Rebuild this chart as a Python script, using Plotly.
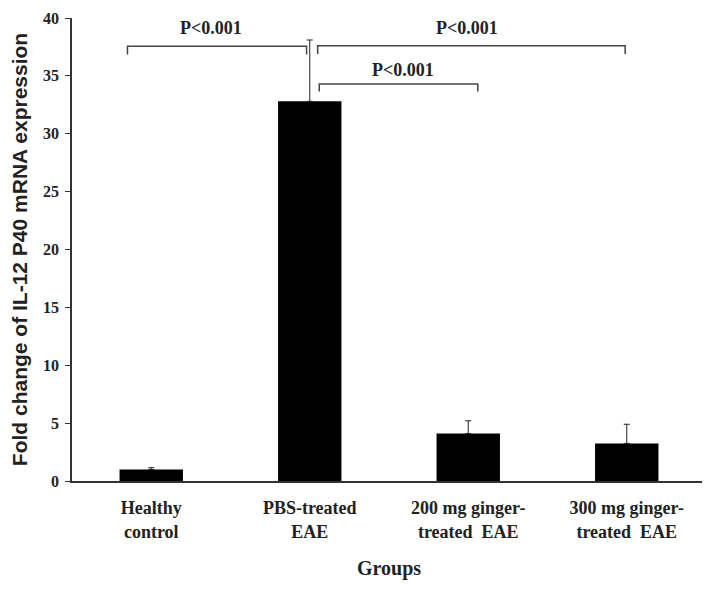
import plotly.graph_objects as go

# data
GROUPS = ["Healthy<br>control", "PBS-treated<br>EAE", "200 mg ginger-<br>treated  EAE", "300 mg ginger-<br>treated  EAE"]
FOLD_CHANGE = [1.0, 32.8, 4.1, 3.25]
ERROR_UP = [0.15, 5.3, 1.1, 1.65]

# significance brackets: (x_left, x_right, y_bar, drop, label_x, label_y)
BRACKETS = [
    (-0.15, 0.98, 37.55, 0.7, 0.38, 39.1),
    (1.05, 2.99, 37.6, 0.7, 1.99, 39.1),
    (1.06, 2.06, 34.3, 0.65, 1.59, 35.5),
]
P_LABEL = "P<0.001"

SERIF = "Liberation Serif"
SANS = "Liberation Sans"

fig = go.Figure(
    go.Bar(
        x=GROUPS,
        y=FOLD_CHANGE,
        marker=dict(color="black", line=dict(width=0)),
        width=0.4,
        error_y=dict(
            type="data",
            symmetric=False,
            array=ERROR_UP,
            arrayminus=[0] * len(ERROR_UP),
            color="#222",
            thickness=1,
            width=3,
        ),
    )
)

for x0, x1, yb, drop, lx, ly in BRACKETS:
    fig.add_shape(
        type="path",
        xref="x",
        yref="y",
        path=f"M {x0} {yb - drop} L {x0} {yb} L {x1} {yb} L {x1} {yb - drop}",
        line=dict(color="#444", width=1.5),
    )
    fig.add_annotation(
        x=lx,
        y=ly,
        xref="x",
        yref="y",
        text=P_LABEL,
        showarrow=False,
        font=dict(family=SERIF, size=18, color="#222", weight="bold"),
    )

# page body adds an 8px margin, so the figure is a bit smaller than the window
fig.update_layout(
    width=702,
    height=581,
    margin=dict(l=64, r=4, t=10, b=108),
    plot_bgcolor="white",
    paper_bgcolor="white",
    showlegend=False,
    xaxis=dict(
        type="category",
        range=[-0.5, 3.5],
        automargin=False,
        showline=True,
        linecolor="#333",
        linewidth=1.5,
        ticks="",
        ticklabelstandoff=10,
        showgrid=False,
        tickfont=dict(family=SERIF, size=18, color="#222", weight="bold"),
        title=dict(
            text="Groups",
            font=dict(family=SERIF, size=20, color="#222", weight="bold"),
            standoff=20,
        ),
    ),
    yaxis=dict(
        range=[0, 40],
        dtick=5,
        automargin=False,
        showline=True,
        linecolor="#333",
        linewidth=1.5,
        ticks="outside",
        ticklen=5,
        tickcolor="#333",
        ticklabelstandoff=3,
        ticklabeloverflow="allow",
        showgrid=False,
        zeroline=False,
        tickfont=dict(family=SERIF, size=16, color="#222", weight="bold"),
        title=dict(
            text="Fold change of IL-12 P40 mRNA expression",
            font=dict(family=SANS, size=21, color="#222", weight="bold"),
            standoff=12,
        ),
    ),
)

fig.write_html("out.html")
